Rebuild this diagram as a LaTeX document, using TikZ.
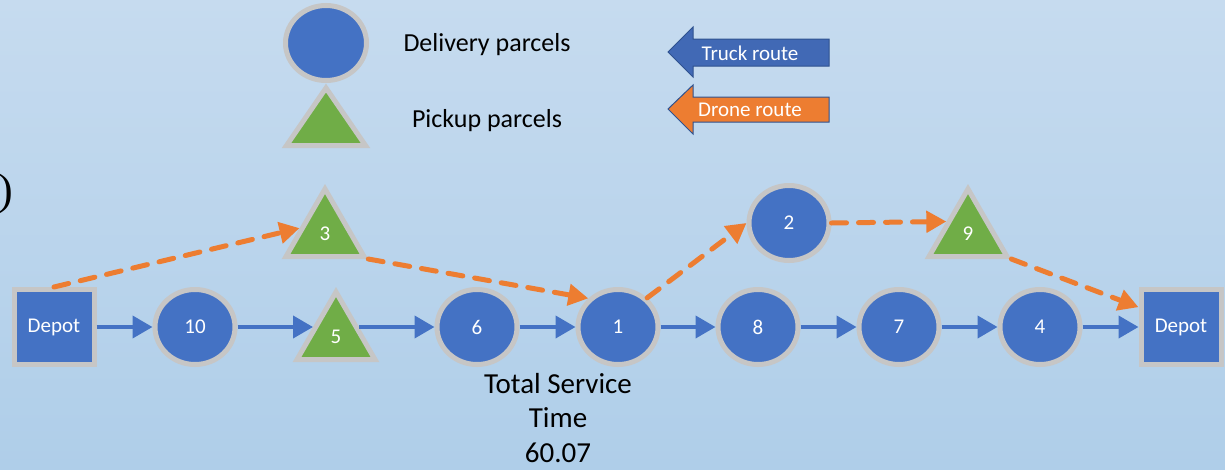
\documentclass[tikz,border=0pt]{standalone}
\usepackage{fontspec}
\setmainfont{Carlito}
\newfontfamily\parenfont{Liberation Serif}
\usetikzlibrary{arrows.meta,shapes.geometric,calc}
\definecolor{nodeblue}{HTML}{4472C4}
\definecolor{truckblue}{HTML}{4169B5}
\definecolor{outlineblue}{HTML}{2F528F}
\definecolor{nodegreen}{HTML}{70AD47}
\definecolor{droneorange}{HTML}{ED7D31}
\definecolor{rim}{HTML}{C6C6C6}
\definecolor{bgtop}{HTML}{C6DBEF}
\definecolor{bgbot}{HTML}{AFCEE9}
\begin{document}
\begin{tikzpicture}[x=1pt,y=-1pt,
  lbl/.style={text=white,font=\fontsize{21}{23}\selectfont},
  deliv/.style={ellipse,fill=nodeblue,draw=rim,line width=5pt,minimum width=80pt,minimum height=75pt,inner sep=0pt,lbl},
  pick/.style={regular polygon,regular polygon sides=3,fill=nodegreen,draw=rim,line width=5pt,minimum size=90pt,inner sep=0pt,lbl},
  depotbox/.style={rectangle,fill=nodeblue,draw=rim,line width=5pt,minimum width=80pt,minimum height=75pt,inner sep=0pt,lbl},
  truck/.style={draw=nodeblue,line width=4pt,-{Triangle[length=20pt,width=22pt]}},
  drone/.style={draw=droneorange,line width=5pt,dash pattern=on 15pt off 12pt,line cap=round,-{Triangle[length=20pt,width=21pt,line cap=butt]}},
  legtext/.style={text=black,font=\fontsize{26}{28}\selectfont},
  arrtext/.style={text=white,font=\fontsize{21}{23}\selectfont}
]
\useasboundingbox (0,0) rectangle (1225,469);
\shade[top color=bgtop,bottom color=bgbot] (0,0) rectangle (1225,469);

% partial label at left edge
\node[anchor=east,inner sep=0pt,font=\parenfont\fontsize{44}{46}\selectfont] (paren) at (13,194) {)};

% legend
\node[ellipse,fill=nodeblue,draw=rim,line width=5pt,minimum width=81pt,minimum height=75pt] (legc) at (326,43) {};
\draw[fill=nodegreen,draw=rim,line width=5pt] (326,88) -- (286.5,145.5) -- (365.5,145.5) -- cycle;
\node[legtext] (legd) at (487,45) {Delivery parcels};
\node[legtext] (legp) at (487,121) {Pickup parcels};

\draw[fill=truckblue,draw=outlineblue,line width=1pt] (668,52) -- (693,27) -- (693,39) -- (829,39) -- (829,66) -- (693,66) -- (693,77) -- cycle;
\node[arrtext] (legt) at (750,53) {Truck route};
\draw[fill=droneorange,draw=outlineblue,line width=1pt] (668,109) -- (693,85) -- (693,97) -- (829,97) -- (829,122) -- (693,122) -- (693,134) -- cycle;
\node[arrtext] (legr) at (750,110) {Drone route};

% nodes
\node[depotbox] (dL) at (54,327) {Depot};
\node[deliv] (c10) at (195,327) {10};
\node[pick] (t5) at (336,337) {5};
\node[deliv] (c6) at (477,327) {6};
\node[deliv] (c1) at (618,327) {1};
\node[deliv] (c8) at (758,327) {8};
\node[deliv] (c7) at (899,327) {7};
\node[deliv] (c4) at (1040,327) {4};
\node[depotbox] (dR) at (1181,327) {Depot};
\node[pick] (t3) at (325,234) {3};
\node[deliv] (c2) at (789,223) {2};
\node[pick] (t9) at (968,234) {9};

\coordinate (t5in) at ($(c10.east -| t5.center)+(-23,0)$);
\coordinate (t5out) at ($(c10.east -| t5.center)+(23,0)$);

% truck route
\draw[truck] (dL) -- (c10);
\draw[truck] (c10.east) -- (t5in);
\draw[truck] (t5out) -- (c6.west);
\draw[truck] (c6) -- (c1);
\draw[truck] (c1) -- (c8);
\draw[truck] (c8) -- (c7);
\draw[truck] (c7) -- (c4);
\draw[truck] (c4) -- (dR);

% drone route
\draw[drone] (dL.north) -- (t3.167);
\draw[drone] (t3.corner 3) -- (c1.136);
\draw[drone] (c1.45) -- (c2.west);
\draw[drone] (c2.east) -- (t9.150);
\draw[drone] (t9.corner 3) -- (dR.155);

% result
\node[align=center,font=\fontsize{29}{34.5}\selectfont] (tst) at (558,418) {Total Service\\Time\\60.07};
\end{tikzpicture}
\end{document}
